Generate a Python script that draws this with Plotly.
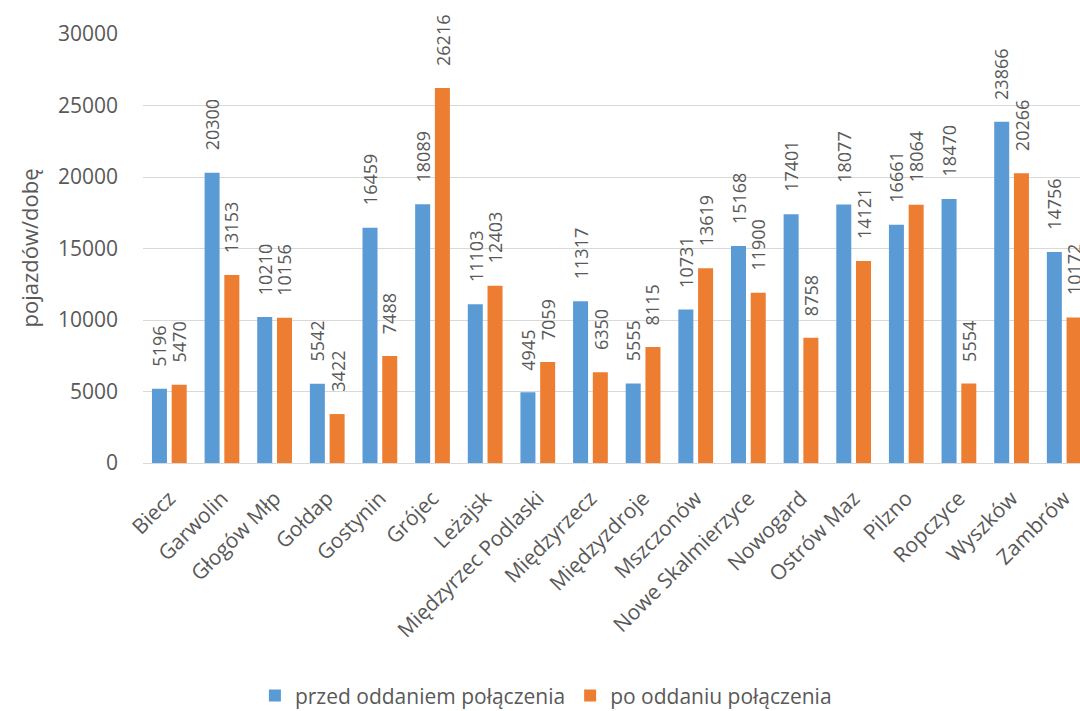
import plotly.graph_objects as go

categories = ["Biecz", "Garwolin", "Głogów Młp", "Gołdap", "Gostynin", "Grójec", "Leżajsk",
              "Międzyrzec Podlaski", "Międzyrzecz", "Międzyzdroje", "Mszczonów",
              "Nowe Skalmierzyce", "Nowogard", "Ostrów Maz", "Pilzno", "Ropczyce",
              "Wyszków", "Zambrów"]
przed = [5196, 20300, 10210, 5542, 16459, 18089, 11103, 4945, 11317, 5555, 10731,
         15168, 17401, 18077, 16661, 18470, 23866, 14756]
po = [5470, 13153, 10156, 3422, 7488, 26216, 12403, 7059, 6350, 8115, 13619,
      11900, 8758, 14121, 18064, 5554, 20266, 10172]
series_names = ["przed oddaniem połączenia", "po oddaniu połączenia"]
y_ticks = [0, 5000, 10000, 15000, 20000, 25000, 30000]
y_title = "pojazdów/dobę"

FONT = "Open Sans"
GRAY = "#595959"
BARGAP = 0.25
n = len(categories)
xs = list(range(n))
slot = (1 - BARGAP) / 2

fig = go.Figure()
annotations = []
for k, (name, vals, color) in enumerate([(series_names[0], przed, "#5b9bd5"),
                                         (series_names[1], po, "#ed7d31")]):
    fig.add_trace(go.Bar(
        x=xs, y=vals, name=name,
        marker=dict(color=color, line=dict(width=0)),
    ))
    off = (k - 0.5) * slot
    for i, v in zip(xs, vals):
        annotations.append(dict(
            x=i + off, y=v, xref="x", yref="y", text=str(v), showarrow=False,
            textangle=-90, xanchor="center", yanchor="bottom", yshift=20,
            font=dict(family=FONT, size=18, color=GRAY),
        ))

# y axis title
annotations.append(dict(
    x=-0.1227, y=0.5, xref="paper", yref="paper", text=y_title, showarrow=False,
    textangle=-90, xanchor="center", yanchor="middle",
    font=dict(family=FONT, size=22, color=GRAY),
))

fig.update_layout(
    width=1080, height=711,
    margin=dict(l=143, r=0, t=34, b=248, autoexpand=False),
    paper_bgcolor="white", plot_bgcolor="white",
    barmode="group", bargap=BARGAP, bargroupgap=0.24,
    font=dict(family=FONT, color=GRAY),
    showlegend=True,
    annotations=annotations,
    legend=dict(orientation="h", x=0.43, xanchor="center", y=-0.543, yanchor="middle",
                font=dict(family=FONT, size=21, color=GRAY), itemwidth=30,
                traceorder="normal"),
    xaxis=dict(
        tickmode="array", tickvals=xs, ticktext=categories, automargin=False,
        range=[-0.5, 17.3], tickangle=-45, showgrid=False, zeroline=False,
        showline=False, ticks="", ticklabelstandoff=18,
        tickfont=dict(family=FONT, size=21, color=GRAY),
    ),
    yaxis=dict(
        range=[0, 30000], tickvals=y_ticks, ticktext=[str(t) for t in y_ticks],
        automargin=False,
        showgrid=True, gridcolor="#d9d9d9", gridwidth=1,
        zeroline=True, zerolinecolor="#d9d9d9", zerolinewidth=1,
        showline=False, ticks="", ticklabelstandoff=24,
        tickfont=dict(family=FONT, size=21, color=GRAY),
    ),
)

fig.write_html("out.html")
